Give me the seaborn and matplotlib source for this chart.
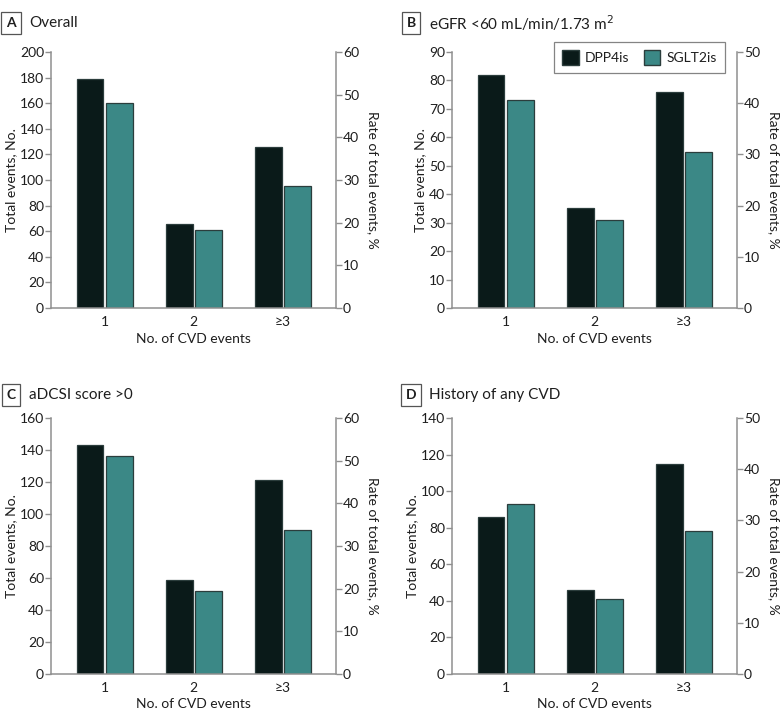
import matplotlib
matplotlib.use("Agg")
import matplotlib.pyplot as plt
from matplotlib.patches import Patch
import seaborn as sns
import pandas as pd

sns.set_theme(style="white")
plt.rcParams['font.family'] = ['Lato', 'DejaVu Sans']

categories = ["1", "2", "≥3"]
groups = ["DPP4is", "SGLT2is"]

a_dpp4 = [179, 66, 126]
a_sglt2 = [160, 61, 95]
b_dpp4 = [82, 35, 76]
b_sglt2 = [73, 31, 55]
c_dpp4 = [143, 59, 121]
c_sglt2 = [136, 52, 90]
d_dpp4 = [86, 46, 115]
d_sglt2 = [93, 41, 78]

titles = ["Overall", "eGFR <60 mL/min/1.73 m$^2$", "aDCSI score >0", "History of any CVD"]
letters = ["A", "B", "C", "D"]
left_max = [200, 90, 160, 140]
left_step = [20, 10, 20, 20]
right_max = [60, 50, 60, 50]
right_step = [10, 10, 10, 10]
data_sets = [(a_dpp4, a_sglt2), (b_dpp4, b_sglt2), (c_dpp4, c_sglt2), (d_dpp4, d_sglt2)]

DARK = "#0a1a19"
TEAL = "#3b8886"
SPINE = "#8f8f8f"
TXT = "#1e1e1e"

W, H = 783, 726
fig = plt.figure(figsize=(W / 100, H / 100), dpi=100)

# axes pixel boxes: left, top, right, bottom
boxes = [(51, 52, 336, 308), (452, 52, 737, 308), (51, 418, 336, 674), (452, 418, 737, 674)]
title_pos = [(1, 13), (401, 13), (1, 385), (401, 385)]

FS = 10

for i in range(4):
    l, t, r, b = boxes[i]
    ax = fig.add_axes([l / W, 1 - b / H, (r - l) / W, (b - t) / H])
    dpp4, sglt2 = data_sets[i]
    df = pd.DataFrame({
        "events": categories * 2,
        "total": list(dpp4) + list(sglt2),
        "drug": [groups[0]] * 3 + [groups[1]] * 3,
    })
    sns.barplot(data=df, x="events", y="total", hue="drug", order=categories,
                hue_order=groups, palette=[DARK, TEAL], width=0.652, gap=0.086,
                edgecolor="#2b3d3c", linewidth=0.9, saturation=1, legend=False, ax=ax)
    ax.set_xlim(-0.603, 2.596)
    ax.set_ylim(0, left_max[i])
    ax.set_yticks(list(range(0, left_max[i] + 1, left_step[i])))
    ax.set_xlabel("No. of CVD events", fontsize=FS, color=TXT, labelpad=3)
    ax.set_ylabel("Total events, No.", fontsize=FS, color=TXT, labelpad=2)
    for s in ["top", "right"]:
        ax.spines[s].set_visible(False)
    for s in ["left", "bottom"]:
        ax.spines[s].set_color(SPINE)
        ax.spines[s].set_linewidth(1.1)
    ax.tick_params(axis="y", direction="out", length=4, width=1, color=SPINE,
                   labelsize=FS, labelcolor=TXT, pad=1, left=True)
    ax.tick_params(axis="x", length=0, labelsize=FS, labelcolor=TXT, pad=6)

    ax2 = ax.twinx()
    ax2.set_ylim(0, right_max[i])
    ax2.set_yticks(list(range(0, right_max[i] + 1, right_step[i])))
    for s in ["top", "left", "bottom"]:
        ax2.spines[s].set_visible(False)
    ax2.spines["right"].set_color(SPINE)
    ax2.spines["right"].set_linewidth(1.1)
    ax2.tick_params(axis="y", direction="out", length=4, width=1, color=SPINE,
                    labelsize=FS, labelcolor=TXT, pad=1, right=True)
    ax2.set_ylabel("Rate of total events, %", fontsize=FS, color=TXT,
                   rotation=270, labelpad=14)
    ax2.grid(False)
    ax.grid(False)

    tx, ty = title_pos[i]
    fig.text((tx + 10) / W, 1 - (ty + 10) / H, letters[i], fontsize=10, fontweight="bold",
             color=TXT, ha="center", va="center",
             bbox=dict(boxstyle="square,pad=0.35", facecolor="white", edgecolor="#555555",
                       linewidth=0.9))
    fig.text((tx + 28) / W, 1 - (ty + 10) / H, titles[i], fontsize=11, color=TXT,
             ha="left", va="center")

    if i == 1:
        handles = [Patch(facecolor=DARK, edgecolor="#2b3d3c", label=groups[0]),
                   Patch(facecolor=TEAL, edgecolor="#2b3d3c", label=groups[1])]
        leg = ax.legend(handles=handles, ncol=2, loc="upper left",
                        bbox_to_anchor=(554 / W, 1 - 42 / H), bbox_transform=fig.transFigure,
                        frameon=True, fancybox=False, edgecolor="#666666",
                        fontsize=FS, handlelength=1.2, handleheight=1.2,
                        columnspacing=1.0, handletextpad=0.45, borderpad=0.6,
                        borderaxespad=0)
        leg.get_frame().set_linewidth(0.9)
        for txt in leg.get_texts():
            txt.set_color(TXT)

fig.savefig("out.png", dpi=100, facecolor="white")
